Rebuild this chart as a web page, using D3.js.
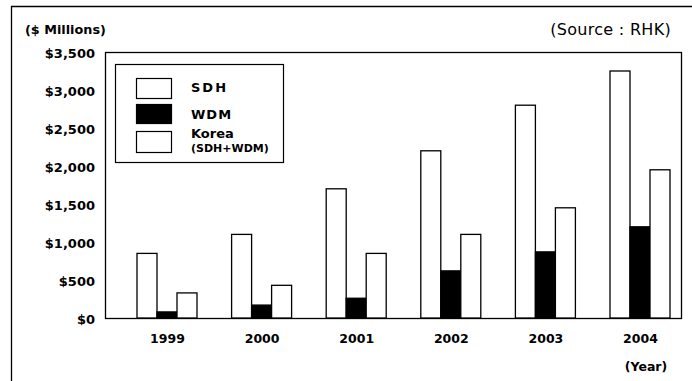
<!DOCTYPE html>
<html>
<head>
<meta charset="utf-8">
<script src="https://cdn.jsdelivr.net/npm/d3@7"></script>
<style>
  html, body { margin: 0; padding: 0; background: #fff; }
  svg { display: block; font-family: "DejaVu Sans", Arial, sans-serif; }
</style>
</head>
<body>
<svg id="chart" width="692" height="381"></svg>
<script>
// Optical transmission market, $ millions
const years = ["1999", "2000", "2001", "2002", "2003", "2004"];
const seriesNames = ["SDH", "WDM", "Korea"];
const sdh = [850, 1100, 1700, 2200, 2800, 3250];
const wdm = [80, 170, 260, 620, 870, 1200];
const korea = [330, 430, 850, 1100, 1450, 1950];
const yTicks = [0, 500, 1000, 1500, 2000, 2500, 3000, 3500];

const seriesValues = { SDH: sdh, WDM: wdm, Korea: korea };
const fills = { SDH: "#fff", WDM: "#000", Korea: "#fff" };

const FONT = "'DejaVu Sans', Arial, sans-serif";
const svg = d3.select("#chart");
const plot = { left: 105, top: 52, right: 681, bottom: 318 };

// Outer frame (left and top edges)
svg.append("path")
  .attr("d", "M11.5,381 V6.5 H692")
  .attr("fill", "none").attr("stroke", "#000").attr("stroke-width", 1.3);

const y = d3.scaleLinear().domain([0, 3500]).range([plot.bottom, plot.top]);
const x = d3.scalePoint().domain(years).range([167, 640]);
const xs = d3.scaleBand().domain(seriesNames).range([-30, 30]).padding(0);

// Plot frame
svg.append("rect")
  .attr("x", plot.left + 0.5).attr("y", plot.top + 0.5)
  .attr("width", plot.right - plot.left).attr("height", plot.bottom - plot.top)
  .attr("fill", "none").attr("stroke", "#000").attr("stroke-width", 1.3);

// Y axis labels
const yAxis = d3.axisLeft(y).tickValues(yTicks).tickSize(0).tickPadding(0)
  .tickFormat(d => "$" + d3.format(",")(d));
svg.append("g")
  .attr("transform", `translate(95,1)`)
  .call(yAxis)
  .call(g => g.select(".domain").remove())
  .call(g => g.selectAll("text")
    .attr("font-family", FONT)
    .attr("font-size", 13).attr("font-weight", "bold").attr("fill", "#000"));

// X axis labels
const xAxis = d3.axisBottom(x).tickSize(0).tickPadding(0);
svg.append("g")
  .attr("transform", `translate(0,${plot.bottom + 16})`)
  .call(xAxis)
  .call(g => g.select(".domain").remove())
  .call(g => g.selectAll("text")
    .attr("font-family", FONT)
    .attr("font-size", 12.5).attr("font-weight", "bold").attr("fill", "#000"));

// Bars
const groups = svg.append("g").selectAll("g")
  .data(years).join("g")
  .attr("transform", d => `translate(${x(d)},0)`);

groups.selectAll("rect")
  .data((yr, i) => seriesNames.map(s => ({ s, v: seriesValues[s][i] })))
  .join("rect")
  .attr("x", d => xs(d.s))
  .attr("y", d => y(d.v))
  .attr("width", xs.bandwidth())
  .attr("height", d => y(0) - y(d.v))
  .attr("fill", d => fills[d.s])
  .attr("stroke", "#000")
  .attr("stroke-width", 1.3);

// Titles
svg.append("text").attr("x", 25).attr("y", 34)
  .attr("font-size", 12.8).attr("font-weight", "bold").text("($ Millions)");
svg.append("text").attr("x", 671).attr("y", 35).attr("text-anchor", "end")
  .attr("font-size", 16).attr("letter-spacing", 0.3).text("(Source : RHK)");
svg.append("text").attr("x", 646).attr("y", 371).attr("text-anchor", "middle")
  .attr("font-size", 12.5).attr("font-weight", "bold").text("(Year)");

// Legend
const legend = svg.append("g");
legend.append("rect")
  .attr("x", 115.5).attr("y", 64.5).attr("width", 168).attr("height", 98)
  .attr("fill", "#fff").attr("stroke", "#000").attr("stroke-width", 1.2);
const swatchY = { SDH: 78, WDM: 104, Korea: 131 };
const swatchH = { SDH: 20, WDM: 19, Korea: 21 };
seriesNames.forEach(s => {
  legend.append("rect")
    .attr("x", 136.5).attr("y", swatchY[s] + 0.5)
    .attr("width", 35).attr("height", swatchH[s])
    .attr("fill", fills[s]).attr("stroke", "#000").attr("stroke-width", 1.2);
});
legend.append("text").attr("x", 191).attr("y", 92).attr("font-size", 13)
  .attr("font-weight", "bold").attr("letter-spacing", 2).text("SDH");
legend.append("text").attr("x", 191).attr("y", 119).attr("font-size", 13)
  .attr("font-weight", "bold").attr("letter-spacing", 1).text("WDM");
legend.append("text").attr("x", 191).attr("y", 138).attr("font-size", 13)
  .attr("font-weight", "bold").text("Korea");
legend.append("text").attr("x", 191).attr("y", 152).attr("font-size", 11)
  .attr("font-weight", "bold").text("(SDH+WDM)");
</script>
</body>
</html>
